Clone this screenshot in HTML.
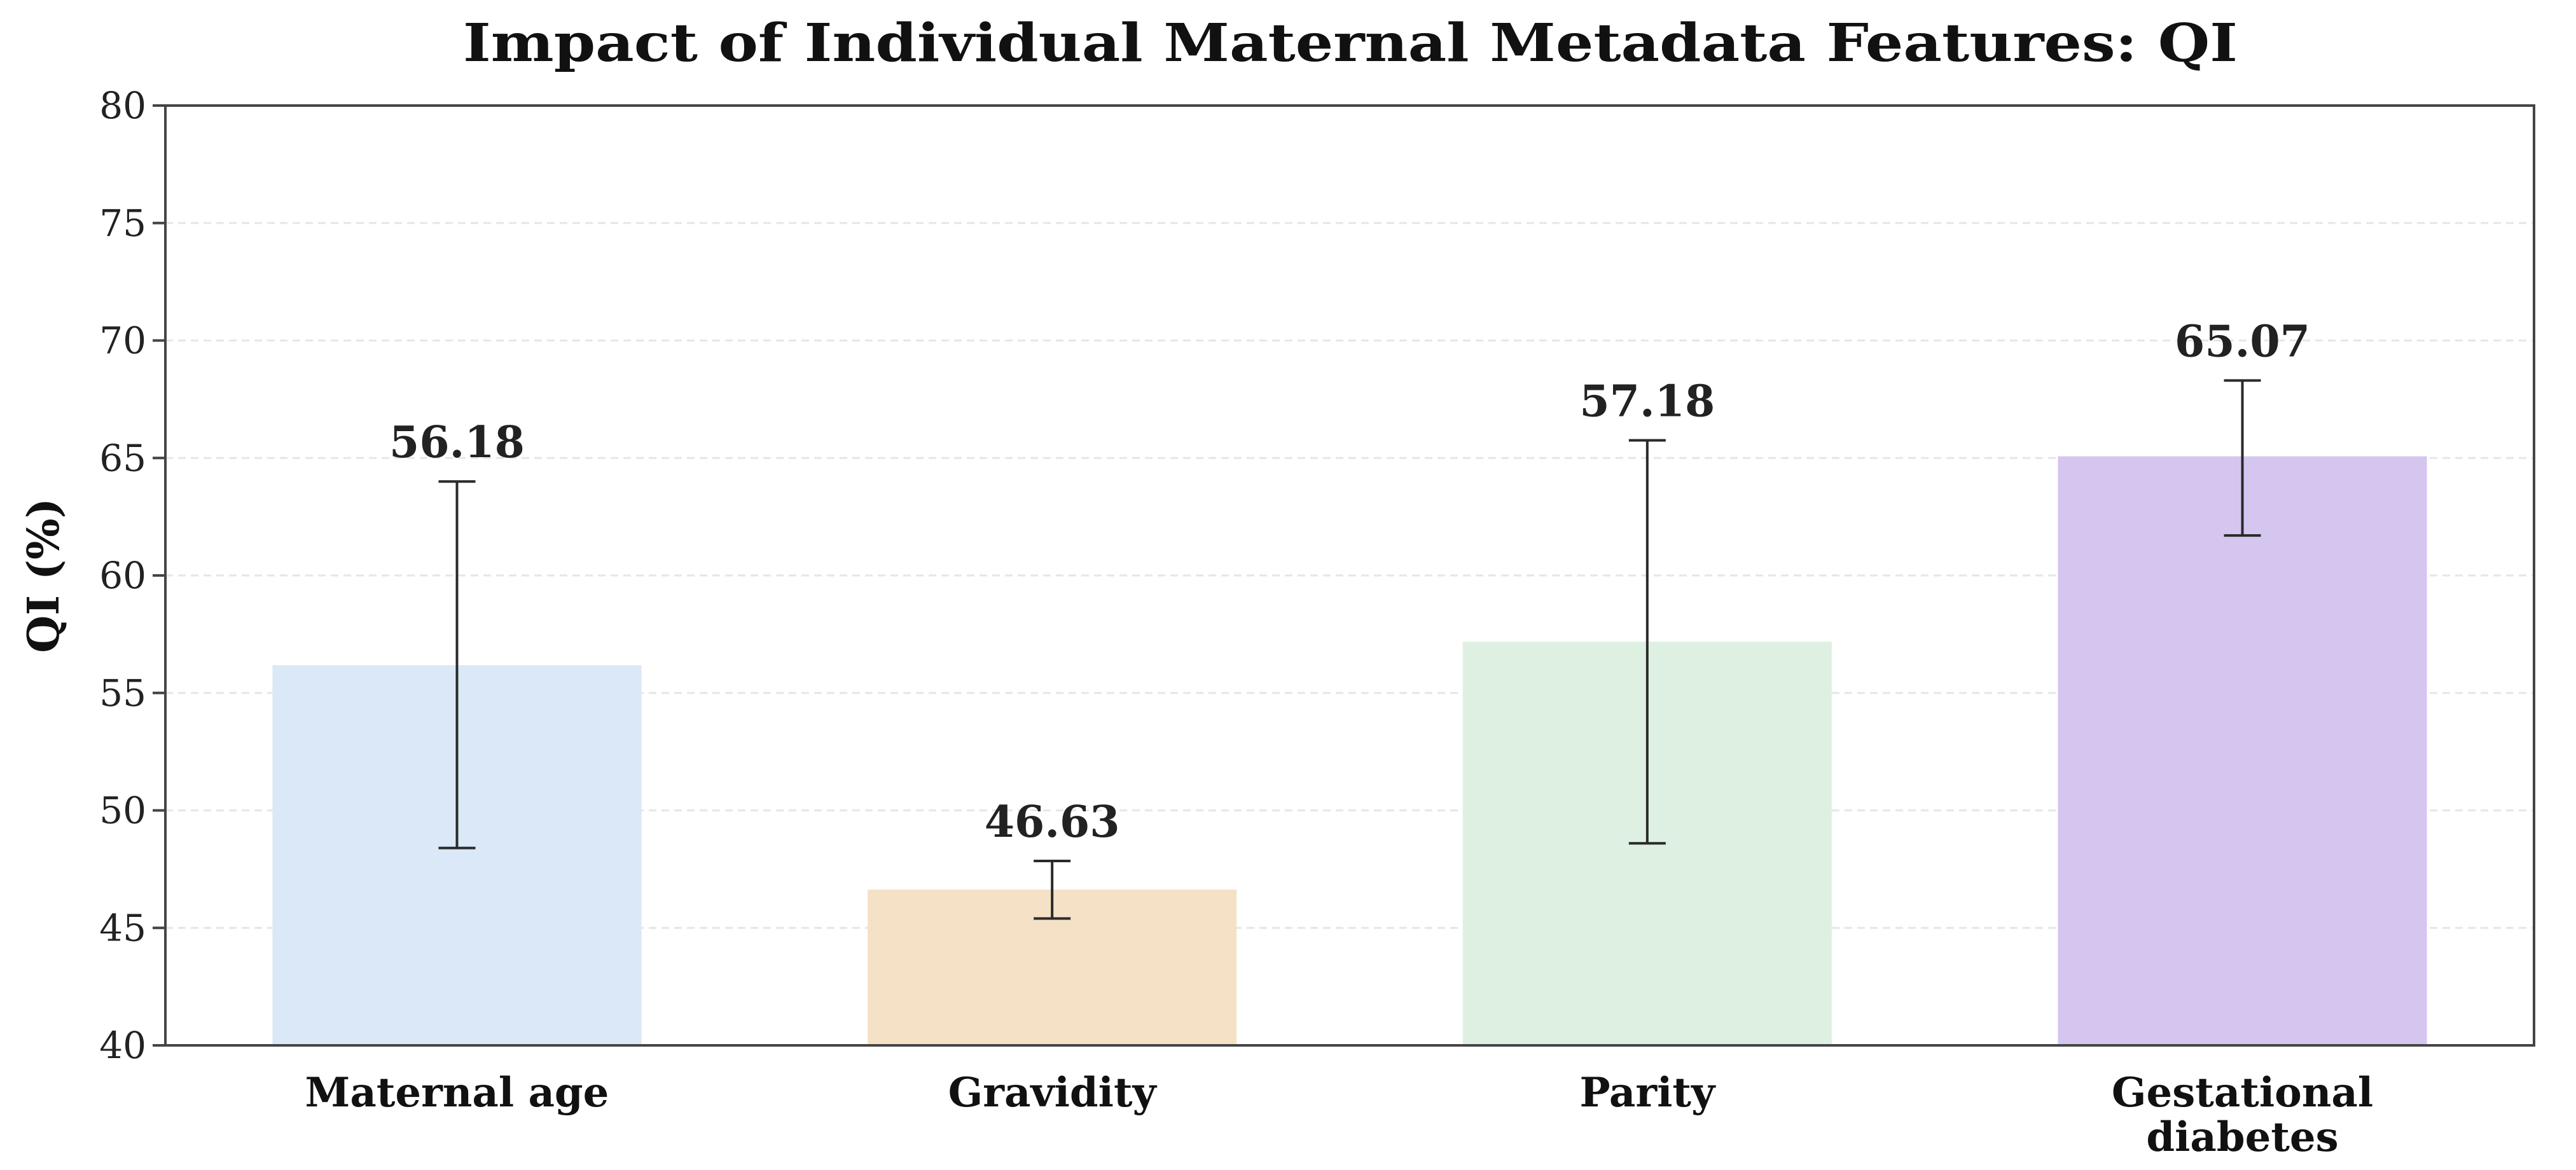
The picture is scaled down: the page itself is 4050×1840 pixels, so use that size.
<!DOCTYPE html>
<html><head><meta charset="utf-8"><style>
html,body{margin:0;padding:0;background:#fff;}
svg{display:block;font-family:"DejaVu Serif","Liberation Serif",serif;}
</style></head><body>
<svg id="chart" width="4050" height="1840" viewBox="0 0 4050 1840" xmlns="http://www.w3.org/2000/svg">
<rect width="4050" height="1840" fill="#fff"/>
<text x="2123" y="96" text-anchor="middle" font-weight="bold" font-size="82" textLength="2790" lengthAdjust="spacingAndGlyphs" fill="#111">Impact of Individual Maternal Metadata Features: QI</text>
<text transform="translate(92,905) rotate(-90)" text-anchor="middle" font-weight="bold" font-size="68" fill="#111">QI (%)</text>
<g id="grid"></g><g id="bars"></g><g id="errs"></g><g id="labels"></g><g id="yticks"></g><g id="xticks"></g>
<rect x="260" y="166" width="3724" height="1478" fill="none" stroke="#444" stroke-width="4"/>
</svg>
<script>
const categories = [["Maternal age"],["Gravidity"],["Parity"],["Gestational","diabetes"]];
const values = [56.18, 46.63, 57.18, 65.07];
const errLow = [48.4, 45.4, 48.6, 61.7];
const errHigh = [64.0, 47.85, 65.75, 68.3];
const valueLabels = ["56.18","46.63","57.18","65.07"];
const yTicks = [40,45,50,55,60,65,70,75,80];
const colors = ["#dae8f7","#f5e1c5","#ddf0e2","#d5c6f0"];
const NS="http://www.w3.org/2000/svg";
const X0=260,X1=3984,Y0=1644,Y1=166,ymin=40,ymax=80,xmin=-0.49,xmax=3.49;
function sx(i){return X0+(i-xmin)/(xmax-xmin)*(X1-X0);}
function sy(v){return Y0-(v-ymin)/(ymax-ymin)*(Y0-Y1);}
function mk(tag,attrs,parent){const e=document.createElementNS(NS,tag);for(const k in attrs)e.setAttribute(k,attrs[k]);document.getElementById(parent).appendChild(e);return e;}
const bw=(sx(1)-sx(0))*0.62;
yTicks.forEach(t=>{
  const y=sy(t);
  if(t>ymin&&t<ymax){const g=mk('line',{x1:X0,x2:X1,y1:y,y2:y,stroke:'#e6e6e6','stroke-width':3,'stroke-dasharray':'12 8'},'grid');
  
  }
  const tk=mk('line',{x1:X0-20,x2:X0,y1:y,y2:y,stroke:'#444','stroke-width':4},'yticks');
  
  
  const tl=mk('text',{x:X0-30,y:y+20,'text-anchor':'end','font-size':58,fill:'#222'},'yticks');
  
  
  tl.textContent=t;
});
values.forEach((v,i)=>{
  const cx=sx(i);
  const b=mk('rect',{x:cx-bw/2,y:sy(v),width:bw,height:sy(ymin)-sy(v),fill:colors[i]},'bars');
  
  
  const e=mk('path',{d:`M${cx},${sy(errLow[i])}V${sy(errHigh[i])}M${cx-29},${sy(errLow[i])}H${cx+29}M${cx-29},${sy(errHigh[i])}H${cx+29}`,stroke:'#2a2a2a','stroke-width':4,fill:'none'},'errs');
  
  
  const l=mk('text',{x:cx,y:sy(errHigh[i])-38,'text-anchor':'middle','font-weight':'bold','font-size':68,fill:'#222'},'labels');
  
  
  l.textContent=valueLabels[i];
  categories[i].forEach((line,j)=>{
    const t=mk('text',{x:cx,y:1740+j*70,'text-anchor':'middle','font-weight':'bold','font-size':64,fill:'#111'},'xticks');
    
    
    t.textContent=line;
  });
});
</script>
</body></html>
